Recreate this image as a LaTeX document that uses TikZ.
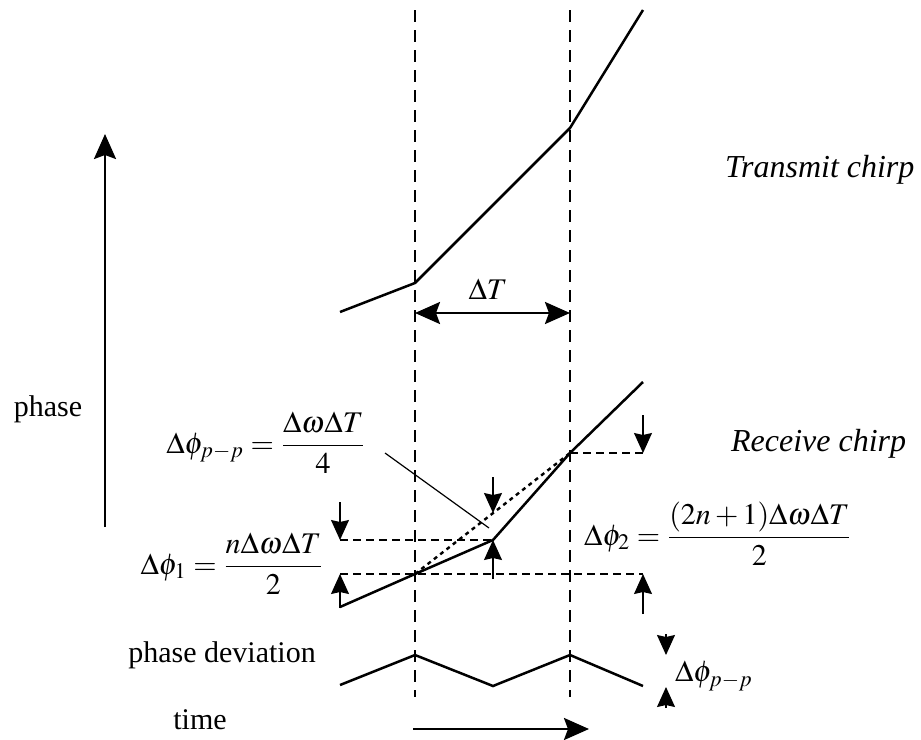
\documentclass[tikz,border=0pt]{standalone}
\usepackage{mathptmx}
\usepackage[no-math]{fontspec}
\setmainfont{Liberation Serif}
\usetikzlibrary{arrows.meta}

\begin{document}
\begin{tikzpicture}[x=0.5pt, y=-0.5pt, font=\fontsize{15}{18}\selectfont,
  chirp/.style={line width=1.25pt},
  marker/.style={line width=1pt, dash pattern=on 6pt off 4pt},
  level/.style={line width=0.55pt, dash pattern=on 4pt off 2.5pt},
  tick/.style={-{Stealth[length=10pt, width=9pt, inset=1pt]}, line width=0.6pt},
  bigarrow/.style={-{Stealth[length=12.5pt, width=11pt, inset=2pt]}, line width=1.3pt},
  chirplbl/.style={anchor=west, font=\fontsize{16}{19}\selectfont\itshape}]
  \useasboundingbox (0,0) rectangle (921,739);
  % Breakpoints of the chirps
  \coordinate (tx0) at (340,312);
  \coordinate (tx1) at (415,283);
  \coordinate (tx2) at (570,128);
  \coordinate (tx3) at (643,10);
  \coordinate (rx0) at (340,607);
  \coordinate (rx1) at (415,574);
  \coordinate (rx2) at (493,540);
  \coordinate (rx3) at (570,453);
  \coordinate (rx4) at (643,382);
  \coordinate (dv0) at (340,685);
  \coordinate (dv1) at (415,655);
  \coordinate (dv2) at (493,686);
  \coordinate (dv3) at (570,655);
  \coordinate (dv4) at (643,686);
  % Time markers
  \coordinate (ma) at (415,10);
  \coordinate (mb) at (570,10);
  \draw[marker] (ma) -- (415,697);
  \draw[marker] (mb) -- (570,697);
  % Chirps
  \draw[chirp] (tx0) -- (tx1) -- (tx2) -- (tx3);
  \draw[chirp] (rx0) -- (rx1) -- (rx2) -- (rx3) -- (rx4);
  \draw[chirp] (dv0) -- (dv1) -- (dv2) -- (dv3) -- (dv4);
  \draw[line width=1.2pt, dash pattern=on 2pt off 2pt] (rx1) -- (rx3);
  % Levels
  \coordinate (lv1) at (340,540);
  \coordinate (lv2) at (643,574);
  \coordinate (lv3) at (643,453);
  \draw[level] (lv1) -- (rx2);
  \draw[level] (rx0 |- rx1) -- (lv2);
  \draw[level] (rx3) -- (lv3);
  % Pointers
  \draw[tick] (340,502) -- (lv1);
  \draw[tick] (340,608) -- (rx1 -| rx0);
  \draw[tick] (493,477) -- (493,513);
  \draw[tick] (493,579) -- (rx2);
  \draw[tick] (643,415) -- (lv3);
  \draw[tick] (643,614) -- (lv2);
  \draw[tick] (666,634) -- (666,655);
  \draw[tick] (666,708) -- (666,687);
  % Axes
  \coordinate (pa) at (105,527);
  \coordinate (pb) at (105,134);
  \draw[bigarrow] (pa) -- (pb);
  \coordinate (ta) at (413,729);
  \coordinate (tb) at (589,729);
  \draw[bigarrow] (ta) -- (tb);
  \draw[{Stealth[length=12.5pt, width=11pt, inset=2pt]}-{Stealth[length=12.5pt, width=11pt, inset=2pt]}, line width=1.3pt] (tx1 |- 0,313) -- (tx2 |- 0,313);
  % Labels
  \node (phaselbl) at (48,409) {phase};
  \node (timelbl) at (200,720) {time};
  \node (devlbl) at (222,655) {phase deviation};
  \node[chirplbl] (txlbl) at (718,170) {Transmit chirp};
  \node[chirplbl] (rxlbl) at (724,444) {Receive chirp};
  \node (dTlbl) at (488,289) {$\Delta T$};
  \node (pplbl) at (266,443) {$\displaystyle \Delta\phi_{p-p} = \frac{\Delta\omega\Delta T}{4}$};
  \node (d1lbl) at (232,564) {$\displaystyle \Delta\phi_1 = \frac{n\Delta\omega\Delta T}{2}$};
  \node (d2lbl) at (718,534) {$\displaystyle \Delta\phi_2 = \frac{(2n+1)\Delta\omega\Delta T}{2}$};
  \node[anchor=west] (ppdev) at (668,676) {$\Delta\phi_{p-p}$};
  % Leader
  \coordinate (ls) at (385,453);
  \coordinate (ld) at (489,528);
  \draw[line width=0.6pt] (ls) -- (ld);
\end{tikzpicture}
\end{document}
